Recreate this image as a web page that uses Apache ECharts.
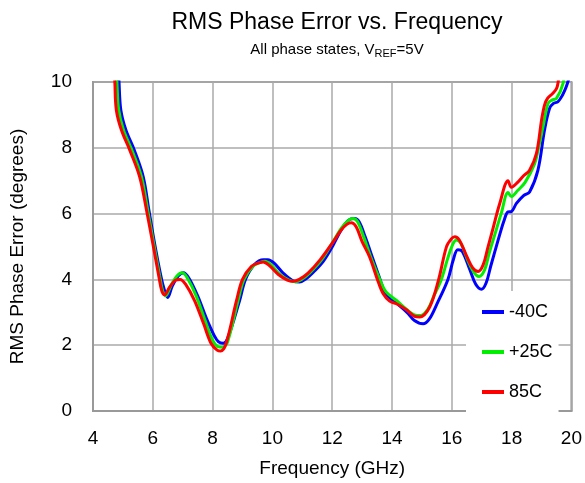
<!DOCTYPE html>
<html>
<head>
<meta charset="utf-8">
<script src="https://cdn.jsdelivr.net/npm/echarts@6/dist/echarts.min.js"></script>
<style>html,body{margin:0;padding:0;background:#fff}#c{width:585px;height:483px}</style>
</head>
<body>
<div id="c"></div>
<script>
var xTicks = [4, 6, 8, 10, 12, 14, 16, 18, 20];
var yTicks = [0, 2, 4, 6, 8, 10];
var seriesNames = ['-40C', '+25C', '85C'];

var minus40 = [[4.84,10.6],[4.87,10],[4.93,9.15],[5.1,8.54],[5.38,7.93],[5.68,7.12],[5.87,6.1],[6.06,5.09],[6.27,4.1],[6.38,3.7],[6.5,3.45],[6.65,3.8],[6.85,4.1],[7.02,4.2],[7.2,4.05],[7.5,3.5],[7.8,2.8],[8.05,2.3],[8.2,2.1],[8.35,2.06],[8.5,2.2],[8.9,3.35],[9.1,4.0],[9.4,4.45],[9.7,4.6],[9.85,4.6],[10.05,4.5],[10.35,4.2],[10.7,3.95],[10.91,3.92],[11.1,4.0],[11.4,4.25],[11.7,4.55],[12.03,5.04],[12.3,5.5],[12.55,5.8],[12.75,5.85],[12.9,5.75],[13.1,5.3],[13.35,4.65],[13.6,4.0],[13.8,3.55],[14.15,3.28],[14.5,3.0],[14.75,2.75],[15.04,2.65],[15.25,2.8],[15.5,3.25],[15.87,4.0],[16.05,4.6],[16.2,4.9],[16.35,4.85],[16.6,4.3],[16.8,3.85],[16.99,3.7],[17.15,3.9],[17.3,4.4],[17.55,5.2],[17.75,5.8],[17.88,6.05],[17.99,6.06],[18.16,6.31],[18.4,6.55],[18.6,6.66],[18.88,7.32],[19.1,8.54],[19.27,9.2],[19.4,9.35],[19.55,9.4],[19.7,9.6],[19.83,9.86],[19.94,10.2]];

var plus25 = [[4.77,10.6],[4.8,10],[4.86,9.15],[5.02,8.54],[5.3,7.93],[5.62,7.12],[5.83,6.1],[6.03,5.09],[6.23,4.1],[6.33,3.65],[6.43,3.5],[6.6,3.8],[6.8,4.1],[6.98,4.2],[7.15,4.05],[7.45,3.5],[7.75,2.75],[8.0,2.15],[8.2,1.95],[8.33,1.94],[8.5,2.1],[8.85,3.35],[9.05,4.0],[9.35,4.4],[9.6,4.52],[9.75,4.55],[9.95,4.45],[10.25,4.15],[10.55,3.98],[10.75,3.93],[10.95,3.98],[11.25,4.2],[11.65,4.6],[12.03,5.15],[12.3,5.55],[12.55,5.8],[12.7,5.85],[12.85,5.75],[13.05,5.3],[13.3,4.65],[13.59,4.0],[13.8,3.62],[14.15,3.36],[14.5,3.08],[14.75,2.92],[14.95,2.9],[15.2,3.1],[15.4,3.5],[15.65,4.0],[15.85,4.6],[16.0,5.0],[16.15,5.2],[16.3,5.1],[16.55,4.55],[16.75,4.2],[16.91,4.09],[17.1,4.3],[17.25,4.8],[17.45,5.4],[17.65,6.0],[17.88,6.64],[17.99,6.52],[18.2,6.7],[18.45,6.95],[18.77,7.52],[18.9,8.0],[19.05,8.64],[19.22,9.35],[19.35,9.45],[19.5,9.5],[19.72,9.96],[19.78,10.5]];

var plus85 = [[4.70,10.6],[4.73,10],[4.78,9.15],[4.95,8.54],[5.23,7.93],[5.56,7.12],[5.79,6.1],[6.0,5.09],[6.2,4.1],[6.3,3.65],[6.39,3.53],[6.55,3.75],[6.75,3.97],[6.91,4.0],[7.1,3.85],[7.4,3.35],[7.7,2.65],[7.95,2.05],[8.15,1.85],[8.27,1.82],[8.45,2.05],[8.8,3.36],[9.0,4.0],[9.3,4.4],[9.55,4.5],[9.69,4.53],[9.9,4.42],[10.2,4.15],[10.5,3.98],[10.69,3.94],[10.9,4.0],[11.2,4.2],[11.6,4.6],[12.03,5.14],[12.3,5.5],[12.5,5.68],[12.64,5.72],[12.8,5.6],[13.0,5.15],[13.25,4.68],[13.51,4.0],[13.7,3.57],[13.92,3.34],[14.15,3.26],[14.48,3.08],[14.75,2.88],[14.93,2.86],[15.26,3.16],[15.56,4.0],[15.82,4.99],[15.99,5.24],[16.1,5.3],[16.25,5.2],[16.5,4.7],[16.7,4.35],[16.88,4.24],[17.05,4.45],[17.2,4.95],[17.38,5.56],[17.6,6.3],[17.88,7.0],[17.99,6.8],[18.2,6.95],[18.4,7.15],[18.6,7.32],[18.83,7.83],[19.0,8.84],[19.1,9.3],[19.2,9.5],[19.38,9.66],[19.5,9.8],[19.55,9.96],[19.62,10.5]];

var colors = ['#0000ff', '#00ee00', '#ff0000'];
var FONT = '"Liberation Sans", Arial, sans-serif';

var chart = echarts.init(document.getElementById('c'), null, {renderer: 'canvas'});
function mk(name, data, color) {
  return {
    name: name, type: 'line', data: data, smooth: 0.35, symbol: 'none',
    lineStyle: {color: color, width: 3}, itemStyle: {color: color}, clip: true
  };
}
chart.setOption({
  backgroundColor: '#fff',
  animation: false,
  title: [{
    text: 'RMS Phase Error vs. Frequency',
    left: 332, top: 6, textAlign: 'center',
    textStyle: {fontFamily: FONT, fontSize: 23, fontWeight: 'normal', color: '#000'}
  }, {
    text: 'All phase states, V{sub|REF}=5V',
    left: 332, top: 35, textAlign: 'center',
    textStyle: {fontFamily: FONT, fontSize: 15, fontWeight: 'normal', color: '#000',
      rich: {sub: {fontFamily: FONT, fontSize: 11, verticalAlign: 'bottom', padding: [8, 0, 0, 0], color: '#000'}}}
  }],
  grid: {left: 93, right: 13, top: 82, bottom: 72, show: true, borderColor: '#999', borderWidth: 2, backgroundColor: 'transparent'},
  legend: {
    orient: 'vertical', left: 466, top: 291,
    padding: [12, 6, 12, 16], itemGap: 22, itemWidth: 22, itemHeight: 4,
    icon: 'rect',
    backgroundColor: '#fff',
    data: seriesNames,
    textStyle: {fontFamily: FONT, fontSize: 18, color: '#000'}
  },
  xAxis: {
    type: 'value', min: xTicks[0], max: xTicks[xTicks.length - 1], interval: 2,
    name: 'Frequency (GHz)', nameLocation: 'middle', nameGap: 48,
    nameTextStyle: {fontFamily: FONT, fontSize: 19, color: '#000'},
    axisLine: {show: true, lineStyle: {color: '#999', width: 2}},
    axisTick: {show: false},
    axisLabel: {fontFamily: FONT, fontSize: 19, color: '#000', margin: 18},
    splitLine: {show: true, lineStyle: {color: '#aaa', width: 1.5}}
  },
  yAxis: {
    type: 'value', min: yTicks[0], max: yTicks[yTicks.length - 1], interval: 2,
    name: 'RMS Phase Error (degrees)', nameLocation: 'middle', nameGap: 66,
    nameTextStyle: {fontFamily: FONT, fontSize: 19, color: '#000'},
    axisLine: {show: true, lineStyle: {color: '#999', width: 2}},
    axisTick: {show: false},
    axisLabel: {fontFamily: FONT, fontSize: 19, color: '#000', margin: 21},
    splitLine: {show: true, lineStyle: {color: '#aaa', width: 1.5}}
  },
  series: [mk(seriesNames[0], minus40, colors[0]), mk(seriesNames[1], plus25, colors[1]), mk(seriesNames[2], plus85, colors[2])]
});
</script>
</body>
</html>
